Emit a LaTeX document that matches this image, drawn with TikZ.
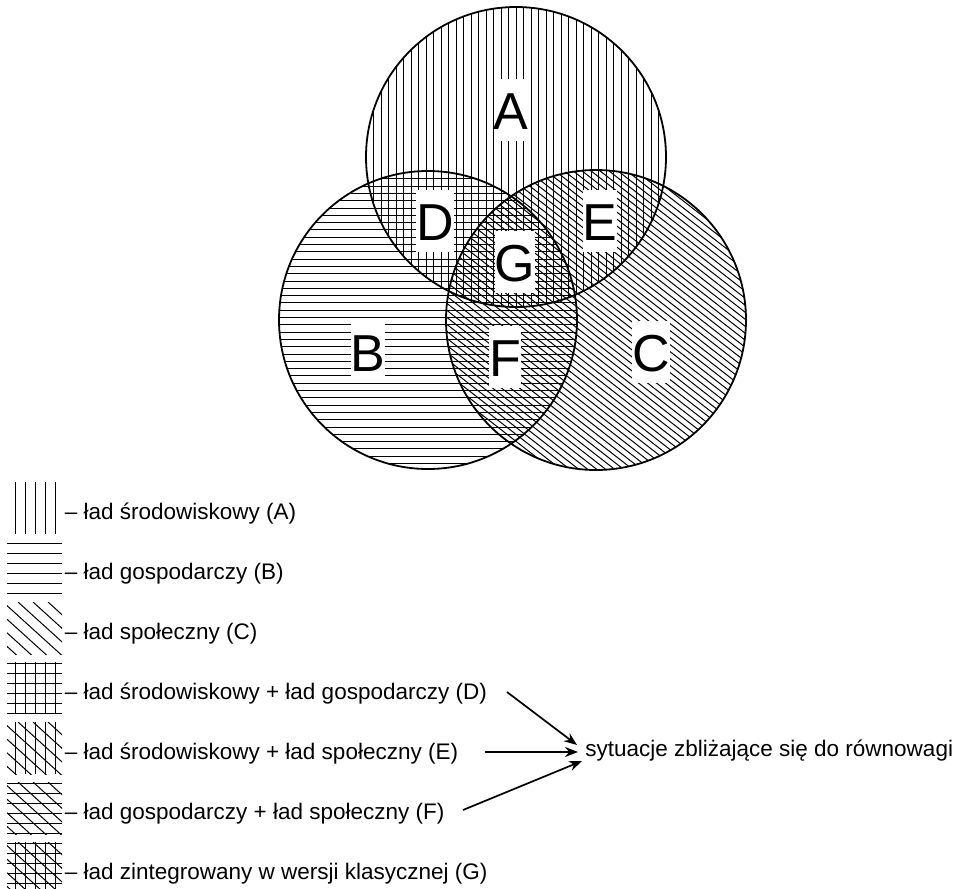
\documentclass[tikz,border=0pt]{standalone}
\usepackage{fontspec}
\setmainfont{Liberation Sans}
\usetikzlibrary{positioning, arrows.meta, calc}

% Hatching for the legend samples
\newcommand{\vlines}{%
    \foreach \k in {0,...,4}
        \draw[hatch] ([xshift={4pt+\k*5pt}]path picture bounding box.north west)
            -- ([xshift={4pt+\k*5pt}]path picture bounding box.south west);}
\newcommand{\hlines}{%
    \foreach \k in {0,...,5}
        \draw[hatch] ([yshift={-0.5pt-\k*5pt}]path picture bounding box.north west)
            -- ([yshift={-0.5pt-\k*5pt}]path picture bounding box.north east);}
\newcommand{\dlines}{%
    \foreach \k in {-4,...,3}
        \draw[hatch] ([xshift={5.5pt+(\k)*7.5pt}]path picture bounding box.north west)
            -- ++(32pt,-29pt);}

\begin{document}
\begin{tikzpicture}[
    x=0.5pt, y=-0.5pt,
    % Styles
    hatch/.style={
        line width=0.5pt
    },
    ring/.style={
        line width=0.9pt
    },
    region/.style={
        fill=white,
        inner sep=0pt,
        text height=25pt,
        text depth=6pt,
        font=\fontsize{26}{30}\selectfont
    },
    sample/.style={
        minimum width=27.5pt,
        minimum height=26pt,
        inner sep=0pt
    },
    legend/.style={
        inner sep=1pt,
        font=\fontsize{11.25}{13}\selectfont
    },
    arrow/.style={
        -{Stealth[length=6.5pt, width=5pt]},
        line width=0.85pt
    }
]
    \useasboundingbox (0,0) rectangle (960,889);

    % Circles
    \coordinate (cA) at (516,157);
    \coordinate (cB) at (428,320);
    \coordinate (cC) at (596,320);

    % Hatching
    \begin{scope}
        \clip (cA) circle[radius=75pt];
        \foreach \x in {366,373.5,...,670}
            \draw[hatch] (\x,0) -- (\x,310);
    \end{scope}
    \begin{scope}
        \clip (cB) circle[radius=74.5pt];
        \foreach \y in {171.5,178.8,...,472}
            \draw[hatch] (275,\y) -- (580,\y);
    \end{scope}
    \begin{scope}
        \clip (cC) circle[radius=75pt];
        \foreach \y in {-80,-73,...,475}
            \draw[hatch] (440,\y) -- (750,\y+242);
    \end{scope}

    \draw[ring] (cA) circle[radius=75pt];
    \draw[ring] (cB) circle[radius=74.5pt];
    \draw[ring] (cC) circle[radius=75pt];

    % Regions
    \node[region] (A) at (511,110) {A};
    \node[region] (D) at (435,221) {D};
    \node[region] (E) at (600,221) {E};
    \node[region] (G) at (515,262) {G};
    \node[region] (B) at (368,352) {B};
    \node[region] (F) at (505,357) {F};
    \node[region] (C) at (651,352) {C};

    % Legend
    \node[sample, path picture={\vlines}] (sA) at (34.5,508) {};
    \node[sample, below=3.6pt of sA, path picture={\hlines}] (sB) {};
    \node[sample, below=3.6pt of sB, path picture={\dlines}] (sC) {};
    \node[sample, below=3.6pt of sC, path picture={\vlines\hlines}] (sD) {};
    \node[sample, below=3.6pt of sD, path picture={\vlines\dlines}] (sE) {};
    \node[sample, below=3.6pt of sE, path picture={\hlines\dlines}] (sF) {};
    \node[sample, below=3.6pt of sF, path picture={\vlines\hlines\dlines}] (sG) {};

    \node[legend, right=0pt of sA, yshift=-3pt] (lA) {– ład środowiskowy (A)};
    \node[legend, right=0pt of sB, yshift=-3pt] (lB) {– ład gospodarczy (B)};
    \node[legend, right=0pt of sC, yshift=-3pt] (lC) {– ład społeczny (C)};
    \node[legend, right=0pt of sD, yshift=-3pt] (lD) {– ład środowiskowy + ład gospodarczy (D)};
    \node[legend, right=0pt of sE, yshift=-3pt] (lE) {– ład środowiskowy + ład społeczny (E)};
    \node[legend, right=0pt of sF, yshift=-3pt] (lF) {– ład gospodarczy + ład społeczny (F)};
    \node[legend, right=0pt of sG, yshift=-3pt] (lG) {– ład zintegrowany w wersji klasycznej (G)};

    \node[legend, anchor=west] (eq) at (583,751) {sytuacje zbliżające się do równowagi};

    % Paths
    \coordinate (fromD) at (507,692);
    \coordinate (fromE) at (485,752);
    \coordinate (fromF) at (463,810);
    \draw[arrow] (fromD) -- ([xshift=-3pt, yshift=3pt]eq.west);
    \draw[arrow] (fromE) -- ([xshift=-2.5pt, yshift=-0.5pt]eq.west);
    \draw[arrow] (fromF) -- ([xshift=-0.5pt, yshift=-5pt]eq.west);
\end{tikzpicture}
\end{document}
